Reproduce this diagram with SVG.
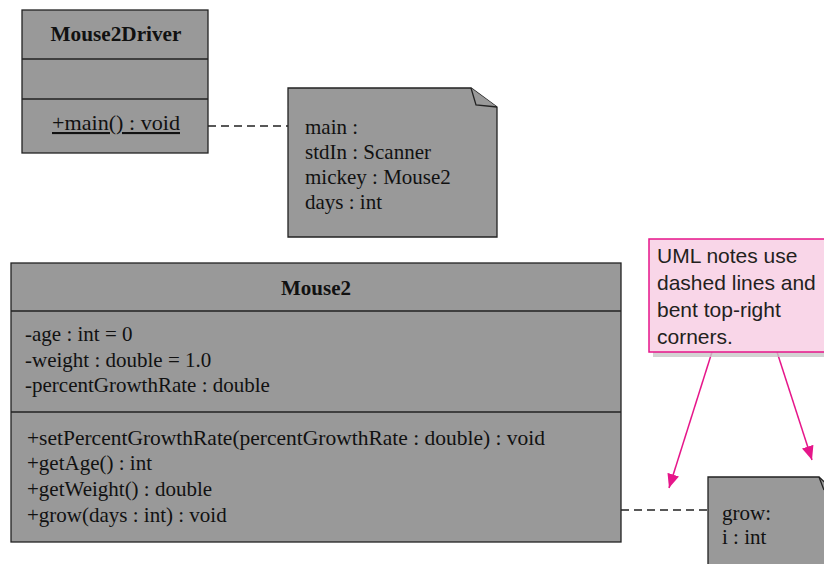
<svg xmlns="http://www.w3.org/2000/svg" width="824" height="564" viewBox="0 0 824 564">
<defs>
<style>
.box{fill:#999999;stroke:#222222;stroke-width:1.3}
.t{font-family:"Liberation Serif","Times New Roman",serif;font-size:21px;fill:#111111}
.b{font-weight:bold}
.dash{stroke:#222222;stroke-width:1.3;stroke-dasharray:8,5;fill:none}
.pink{stroke:#e6168a;stroke-width:1.5;fill:none}
.call{font-family:"Liberation Sans",Arial,sans-serif;font-size:21px;fill:#231f20}
</style>
<marker id="ah" markerWidth="14" markerHeight="12" refX="14" refY="6" orient="auto" markerUnits="userSpaceOnUse">
<path d="M0,0 L14,6 L0,12 Z" fill="#e6168a"/>
</marker>
</defs>
<rect width="824" height="564" fill="#ffffff"/>

<g id="connectors">
<line class="dash" x1="208" y1="126" x2="288" y2="126"/>
<line class="dash" x1="621" y1="510" x2="708" y2="510"/>
<line class="pink" x1="712" y1="352" x2="669" y2="488" marker-end="url(#ah)"/>
<line class="pink" x1="777" y1="352" x2="812" y2="460" marker-end="url(#ah)"/>
</g>

<g id="Mouse2Driver">
<rect class="box" x="22" y="10" width="186" height="143"/>
<line class="box" x1="22" y1="59" x2="208" y2="59"/>
<line class="box" x1="22" y1="99" x2="208" y2="99"/>
<text class="t b" x="116" y="41" text-anchor="middle" textLength="131" lengthAdjust="spacingAndGlyphs">Mouse2Driver</text>
<text class="t" x="52" y="130" text-decoration="underline" textLength="128" lengthAdjust="spacingAndGlyphs">+main() : void</text>
</g>

<g id="note-main">
<path class="box" d="M288,88 L471,88 L497,107 L497,237 L288,237 Z"/>
<path class="box" d="M471,88 L476,105 L497,107" fill="none"/>
<text class="t" x="305" y="134">main :</text>
<text class="t" x="305" y="159">stdIn : Scanner</text>
<text class="t" x="305" y="184">mickey : Mouse2</text>
<text class="t" x="305" y="209">days : int</text>
</g>

<g id="Mouse2">
<rect class="box" x="11" y="263" width="610" height="279"/>
<line class="box" x1="11" y1="311" x2="621" y2="311"/>
<line class="box" x1="11" y1="412" x2="621" y2="412"/>
<text class="t b" x="316" y="295" text-anchor="middle">Mouse2</text>
<text class="t" x="25" y="341">-age : int = 0</text>
<text class="t" x="25" y="367">-weight : double = 1.0</text>
<text class="t" x="25" y="392">-percentGrowthRate : double</text>
<text class="t" x="27" y="445" textLength="518" lengthAdjust="spacingAndGlyphs">+setPercentGrowthRate(percentGrowthRate : double) : void</text>
<text class="t" x="27" y="470">+getAge() : int</text>
<text class="t" x="27" y="496">+getWeight() : double</text>
<text class="t" x="27" y="522">+grow(days : int) : void</text>
</g>

<g id="note-grow">
<path class="box" d="M708,477 L819,477 L840,496 L840,580 L708,580 Z"/>
<path class="box" d="M819,477 L824,490" fill="none"/>
<text class="t" x="722" y="520">grow:</text>
<text class="t" x="722" y="544">i : int</text>
</g>

<g id="callout">
<rect x="653" y="244" width="180" height="113" fill="#c8c8c8" opacity="0.8"/>
<rect x="649" y="239" width="180" height="113" fill="#f9d6e8" stroke="#e6168a" stroke-width="1.5"/>
<text class="call" x="657" y="263">UML notes use</text>
<text class="call" x="657" y="290">dashed lines and</text>
<text class="call" x="657" y="317">bent top-right</text>
<text class="call" x="657" y="344">corners.</text>
</g>
</svg>
